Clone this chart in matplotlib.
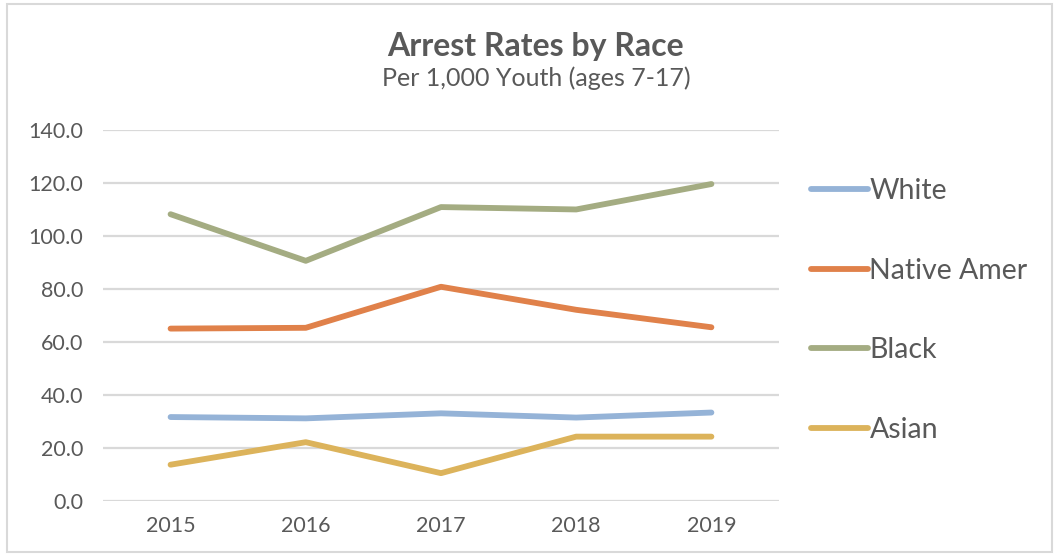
import matplotlib.pyplot as plt
from matplotlib.patches import Rectangle

plt.rcParams['font.family'] = ['Lato', 'DejaVu Sans']

years = ['2015', '2016', '2017', '2018', '2019']
white = [31.6, 31.1, 33.0, 31.4, 33.3]
native_amer = [65.0, 65.3, 80.8, 72.1, 65.5]
black = [108.2, 90.6, 110.9, 110.0, 119.6]
asian = [13.6, 22.1, 10.4, 24.2, 24.2]

series = [
    ('White', white, '#95b3d7'),
    ('Native Amer', native_amer, '#e0814a'),
    ('Black', black, '#a4ac82'),
    ('Asian', asian, '#dcb35b'),
]

text_color = '#595959'
grid_color = '#d9d9d9'

fig = plt.figure(figsize=(10.55, 5.54), dpi=100)
ax = fig.add_axes([0.0976, 0.0962, 0.6408, 0.6691])

x = range(len(years))
for name, vals, col in series:
    ax.plot(x, vals, color=col, linewidth=4.2, solid_capstyle='round',
            solid_joinstyle='round', label=name, zorder=3)

ax.set_xlim(-0.5, len(years) - 0.5)
ax.set_ylim(0, 140)
ax.set_yticks(range(0, 141, 20))
ax.set_yticklabels([f'{v:.1f}' for v in range(0, 141, 20)])
ax.set_xticks(list(x))
ax.set_xticklabels(years)
ax.tick_params(axis='both', length=0, labelsize=15.5, labelcolor=text_color)
ax.tick_params(axis='y', pad=14)
ax.tick_params(axis='x', pad=11)
ax.grid(axis='y', color=grid_color, linewidth=1.6, zorder=0)
for s in ax.spines.values():
    s.set_visible(False)

leg = ax.legend(loc='upper left', bbox_to_anchor=(0.758, 0.699),
                bbox_transform=fig.transFigure, frameon=False,
                fontsize=20.5, labelspacing=1.88, handlelength=2.0,
                handletextpad=0.05, borderaxespad=0)
for t in leg.get_texts():
    t.set_color(text_color)

fig.text(0.508, 0.899, 'Arrest Rates by Race', ha='center', va='baseline',
         fontsize=23, fontweight='bold', color=text_color)
fig.text(0.508, 0.844, 'Per 1,000 Youth (ages 7-17)', ha='center',
         va='baseline', fontsize=18, color=text_color)

fig.patches.append(Rectangle((0.007, 0.004), 0.99, 0.988,
                             transform=fig.transFigure, fill=False,
                             edgecolor=grid_color, linewidth=1.5))

fig.savefig('out.png', dpi=100)
